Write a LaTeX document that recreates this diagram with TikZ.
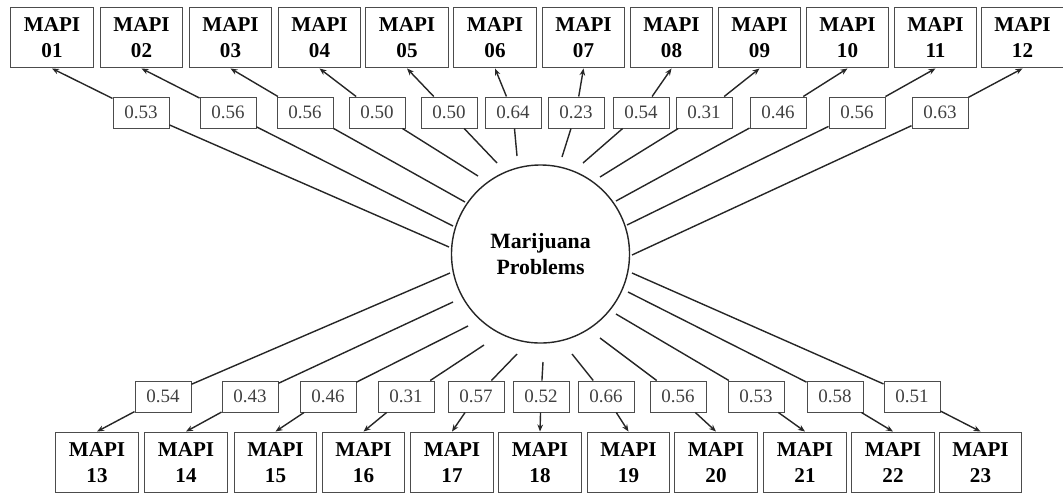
\documentclass[tikz,border=0pt]{standalone}
\usepackage{fontspec}
\setmainfont{Liberation Serif}
\usetikzlibrary{arrows.meta}

\begin{document}
\begin{tikzpicture}[x=0.025cm, y=-0.025cm,
    item/.style={draw=black!70, line width=0.8pt, minimum width=2.07cm, minimum height=1.52cm,
        inner sep=0pt, align=center, font=\fontsize{15}{18.2}\selectfont\bfseries},
    load/.style={draw=black!70, line width=0.7pt, minimum width=1.4cm, minimum height=0.775cm,
        inner sep=0pt, text=black!75, font=\fontsize{13.5}{16}\selectfont},
    link/.style={line width=1pt, black!85},
    >={Stealth[length=5pt, width=4pt]}]
    \useasboundingbox (0,0) rectangle (1063,496);

    % Factor
    \node[draw=black!85, line width=1pt, circle, minimum size=4.45cm, inner sep=0pt, align=center,
        font=\fontsize{15.5}{19}\selectfont\bfseries] (mp) at (540.5,254) {Marijuana\\Problems};

    % Items 01--12 (top row)
    \foreach \i/\bx/\lx/\sx/\sy/\v in {01/52/141/449/247/0.53, 02/141.5/228/453/226/0.56,
        03/230.5/305/465/202/0.56, 04/319.5/377/478/176/0.50, 05/407/449/497/163/0.50,
        06/495/513/517/156/0.64, 07/583.5/576/562/157/0.23, 08/671.5/641/583/163/0.54,
        09/759.5/704/600/177/0.31, 10/847.5/778/616/201/0.46, 11/935.5/857/627/225/0.56,
        12/1022.5/940/632/255/0.63} {
        \node[item] (m\i) at (\bx,37.5) {MAPI\\\i};
        \node[load] (w\i) at (\lx,112.5) {\v};
        \coordinate (s\i) at (\sx,\sy);
        \draw[link] (s\i) -- (w\i);
        \draw[link, ->] (w\i) -- (m\i.south);
    }

    % Items 13--23 (bottom row)
    \foreach \i/\bx/\lx/\sx/\sy/\v in {13/97/163/450/273/0.54, 14/186/250/453/302/0.43,
        15/275.5/328/468/326/0.46, 16/363.5/406/484/345/0.31, 17/452/476/517/354/0.57,
        18/540/541/543/362/0.52, 19/628.5/606/572/354/0.66, 20/716/678/600/338/0.56,
        21/805/756/616/314/0.53, 22/893/835/628/292/0.58, 23/980.5/912/632/273/0.51} {
        \node[item] (m\i) at (\bx,462.5) {MAPI\\\i};
        \node[load] (w\i) at (\lx,396.5) {\v};
        \coordinate (s\i) at (\sx,\sy);
        \draw[link] (s\i) -- (w\i);
        \draw[link, ->] (w\i) -- (m\i.north);
    }
\end{tikzpicture}
\end{document}
